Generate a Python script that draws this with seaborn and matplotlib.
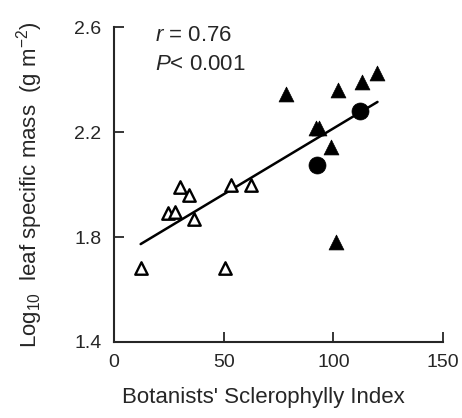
import matplotlib
matplotlib.use("Agg")
import matplotlib.pyplot as plt
import seaborn as sns
import pandas as pd

# open triangles
open_x = [12.3, 24.5, 27.6, 30.1, 34.3, 36.6, 50.6, 53.2, 62.3]
open_y = [1.68, 1.89, 1.895, 1.99, 1.96, 1.87, 1.68, 2.0, 2.0]
# filled triangles
tri_x = [78.3, 92.2, 93.5, 99.1, 101.2, 102.0, 113.1, 120.1]
tri_y = [2.345, 2.215, 2.215, 2.145, 1.78, 2.36, 2.39, 2.425]
# filled circles
circ_x = [92.4, 112.2]
circ_y = [2.075, 2.28]
# fitted line end points
fit_x = [12.1, 120.1]
fit_y = [1.773, 2.315]

sns.set_style("ticks")
plt.rcParams["font.family"] = ["Liberation Sans", "DejaVu Sans"]
plt.rcParams["mathtext.fontset"] = "custom"
plt.rcParams["mathtext.rm"] = "Liberation Sans"
plt.rcParams["mathtext.it"] = "Liberation Sans:italic"

fig = plt.figure(figsize=(4.62, 4.18), dpi=100)
ax = fig.add_axes([0.247, 0.182, 0.712, 0.753])

sns.lineplot(x=fit_x, y=fit_y, ax=ax, color="black", linewidth=1.8)
sns.scatterplot(x=open_x, y=open_y, ax=ax, marker="^", s=80,
                facecolor="white", edgecolor="black", linewidth=1.7, zorder=3)
sns.scatterplot(x=tri_x, y=tri_y, ax=ax, marker="^", s=115,
                color="black", edgecolor="black", linewidth=0.5, zorder=3)
sns.scatterplot(x=circ_x, y=circ_y, ax=ax, marker="o", s=150,
                color="black", edgecolor="black", linewidth=0.5, zorder=3)

ax.set_xlim(0, 150)
ax.set_ylim(1.4, 2.6)
ax.set_xticks([0, 50, 100, 150])
ax.set_yticks([1.4, 1.8, 2.2, 2.6])
ax.set_yticklabels(["1.4", "1.8", "2.2", "2.6"])
ax.tick_params(direction="in", length=7, width=1.3, labelsize=14, pad=9)
ax.tick_params(axis="x", pad=9)
sns.despine(ax=ax)
for s in ["left", "bottom"]:
    ax.spines[s].set_linewidth(1.5)

ax.set_xlabel("Botanists' Sclerophylly Index", fontsize=16, labelpad=11)
ax.xaxis.label.set_x(0.453)
ax.set_ylabel(r"Log$_{10}$  leaf specific mass  (g m$^{-2}$)", fontsize=16, labelpad=21)

ax.text(0.125, 0.975, r"$\it{r}$ = 0.76", transform=ax.transAxes,
        fontsize=16, va="center", ha="left")
ax.text(0.125, 0.88, r"$\it{P}$< 0.001", transform=ax.transAxes,
        fontsize=16, va="center", ha="left")

fig.savefig("out.png", dpi=100)
